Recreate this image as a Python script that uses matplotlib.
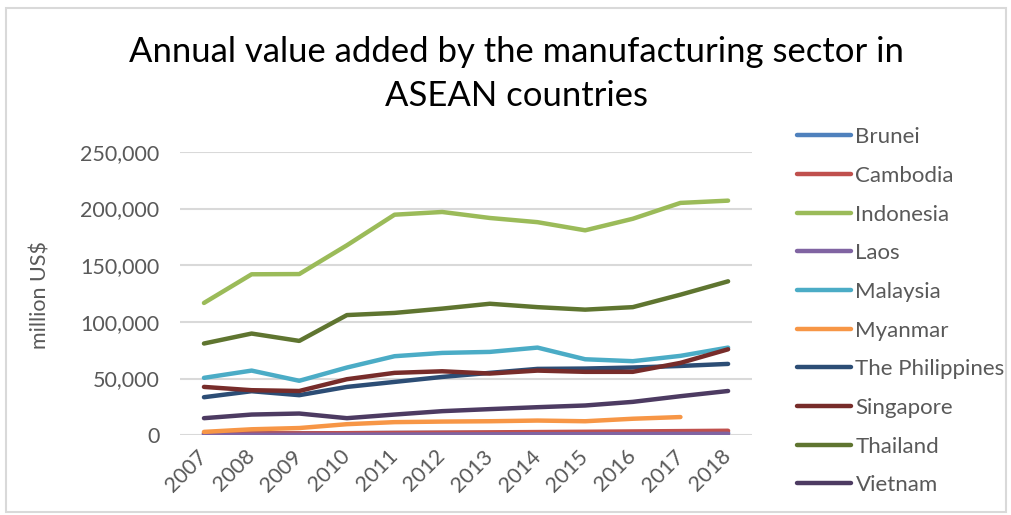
import numpy as np
import matplotlib.pyplot as plt
from matplotlib.patches import Rectangle

plt.rcParams['font.family'] = ['Lato', 'DejaVu Sans']

years = ['2007', '2008', '2009', '2010', '2011', '2012', '2013', '2014', '2015', '2016', '2017', '2018']

# million US$
brunei      = [1600, 1700, 1650, 1750, 1900, 1950, 1900, 1950, 1900, 1850, 1900, 2000]
cambodia    = [1400, 1550, 1600, 1750, 2000, 2250, 2500, 2750, 3000, 3300, 3600, 3900]
indonesia   = [116700, 142000, 142200, 167600, 194600, 197000, 191700, 188000, 180800, 191000, 205000, 207000]
laos        = [300, 350, 400, 450, 550, 650, 750, 850, 900, 1000, 1100, 1200]
malaysia    = [50600, 57000, 48000, 59700, 69700, 72600, 73500, 77300, 67000, 65300, 70000, 77300]
myanmar     = [2900, 5200, 6300, 9700, 11500, 12000, 12300, 12900, 12300, 14500, 16000, np.nan]
philippines = [33500, 38800, 35300, 42600, 47000, 51400, 55000, 58500, 58800, 59700, 61100, 62900]
singapore   = [42600, 39700, 39000, 49400, 55000, 56400, 54400, 57000, 55900, 55900, 63800, 75800]
thailand    = [80900, 89700, 83200, 106000, 107900, 111700, 116000, 113000, 110800, 113000, 124000, 135800]
vietnam     = [15000, 18200, 19100, 15000, 18200, 21200, 23000, 24700, 26200, 29400, 34400, 39000]

countries = ['Brunei', 'Cambodia', 'Indonesia', 'Laos', 'Malaysia', 'Myanmar',
             'The Philippines', 'Singapore', 'Thailand', 'Vietnam']
series = [brunei, cambodia, indonesia, laos, malaysia, myanmar,
          philippines, singapore, thailand, vietnam]
colors = ['#4F81BD', '#C0504D', '#9BBB59', '#8064A2', '#4BACC6', '#F79646',
          '#2C4D75', '#772C2A', '#5F7530', '#4D3B62']

grey = '#595959'

fig = plt.figure(figsize=(10.12, 5.15), dpi=100)
ax = fig.add_axes([0.178, 0.155, 0.565, 0.55])

x = np.arange(len(years))
for name, vals, c in zip(countries, series, colors):
    ax.plot(x, vals, color=c, lw=3.2, label=name, solid_capstyle='round')

ax.set_xlim(-0.5, len(years) - 0.5)
ax.set_ylim(0, 250000)
ax.set_yticks(np.arange(0, 250001, 50000))
ax.set_yticklabels(['{:,}'.format(v) for v in range(0, 250001, 50000)])
ax.set_xticks(x)
ax.set_xticklabels(years, rotation=45, ha='right', va='center', rotation_mode='anchor')
ax.tick_params(axis='both', length=0, colors=grey, labelsize=15.5)
ax.tick_params(axis='y', pad=15)
ax.tick_params(axis='x', pad=13)
ax.grid(axis='y', color='#D9D9D9', lw=1.5)
ax.set_axisbelow(True)
for s in ax.spines.values():
    s.set_visible(False)

fig.text(0.04, 1 - 295 / 515, 'million US$', rotation=90, ha='center', va='center',
         fontsize=15.5, color=grey)
fig.text(0.51, 1 - 74 / 515, 'Annual value added by the manufacturing sector in\nASEAN countries',
         ha='center', va='center', fontsize=24.9, color='black', linespacing=1.5)

leg = fig.legend(loc='upper left', bbox_to_anchor=(0.788, 0.753), frameon=False,
                 fontsize=16, handlelength=2.39, handletextpad=0.22,
                 labelspacing=0.84, borderpad=0, borderaxespad=0)
for t in leg.get_texts():
    t.set_color(grey)

fig.patches.append(Rectangle((0.006, 0.005), 0.988, 0.98, transform=fig.transFigure,
                             fill=False, edgecolor='#D9D9D9', lw=1.5))

fig.savefig('out.png', dpi=100)
